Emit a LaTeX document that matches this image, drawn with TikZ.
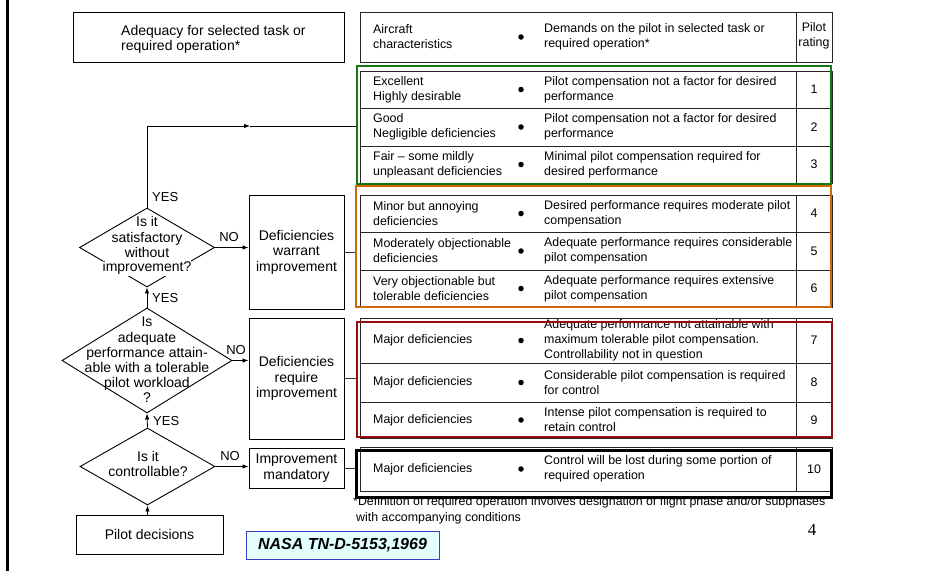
\documentclass[tikz,border=0pt]{standalone}
\usepackage{fontspec}
\setmainfont{Liberation Sans}
\newfontfamily\serifnum{Liberation Serif}
\usetikzlibrary{arrows.meta,shapes.geometric}
\definecolor{grn}{RGB}{20,118,20}
\definecolor{org}{RGB}{206,104,8}
\definecolor{dred}{RGB}{150,12,12}
\definecolor{nasafill}{RGB}{228,255,255}
\definecolor{nasaline}{RGB}{60,60,205}
\newcommand{\tblf}{\fontsize{12.4}{15}\selectfont}
\newcommand{\flowf}{\fontsize{14}{15.5}\selectfont}
\newcommand{\ratingrow}[5]{%
  \draw[tline] (360,#1) rectangle (832,#2);
  \draw[tline] (796,#1) -- (796,#2);
  \node[lbl] (c1r#5) at (373,{(#1+#2)/2}) {#3};
  \node[bul] (br#5) at (521,{(#1+#2)/2}) {};
  \node[lbl] (c2r#5) at (544,{(#1+#2)/2}) {#4};
  \node[num] (nr#5) at (814,{(#1+#2)/2}) {#5};
}
\begin{document}
\begin{tikzpicture}[x=1pt,y=-1pt,
  lbl/.style={font=\tblf, align=left, anchor=west, inner sep=0pt},
  num/.style={font=\tblf, align=center, inner sep=0pt},
  ftxt/.style={font=\flowf, align=center, inner sep=0pt},
  yn/.style={font=\fontsize{13}{13}\selectfont, inner sep=0pt},
  fbox/.style={draw, line width=0.9pt, inner sep=0pt, align=center, font=\flowf},
  dia/.style={draw, diamond, line width=0.9pt, inner sep=0pt},
  conn/.style={line width=0.8pt},
  arr/.style={line width=0.8pt, -{Latex[length=6pt,width=4.5pt]}},
  tline/.style={line width=0.8pt, black!85},
  bul/.style={circle, fill=black, inner sep=0pt, minimum size=5.5pt},
  band/.style={line width=2.3pt, inner sep=0pt},
]
\fill[white] (0,0) rectangle (951,571);
\useasboundingbox (0,0) rectangle (951,571);
% left border
\draw[line width=3pt] (7,0) -- (7,571);

% top-left heading box
\node[draw, line width=0.9pt, minimum width=271pt, minimum height=50pt, inner sep=0pt] (adq) at (208.5,37) {};
\node[font=\flowf, align=left, anchor=west, inner sep=0pt] (adqt) at (121,39.5) {Adequacy for selected task or\\required operation*};

% header of table
\draw[tline] (360,12) rectangle (832,62);
\draw[tline] (796,12) -- (796,62);
\node[lbl] (h1) at (373,37) {Aircraft\\characteristics};
\node[bul] (hb) at (521,37) {};
\node[lbl] (h2) at (544,37) {Demands on the pilot in selected task or\\required operation*};
\node[num] (h3) at (814,36) {Pilot\\rating};

% rows
\ratingrow{71}{108}{Excellent\\Highly desirable}{Pilot compensation not a factor for desired\\performance}{1}
\ratingrow{108}{146}{Good\\Negligible deficiencies}{Pilot compensation not a factor for desired\\performance}{2}
\ratingrow{146}{183}{Fair -- some mildly\\unpleasant deficiencies}{Minimal pilot compensation required for\\desired performance}{3}
\ratingrow{195}{232}{Minor but annoying\\deficiencies}{Desired performance requires moderate pilot\\compensation}{4}
\ratingrow{232}{270}{Moderately objectionable\\deficiencies}{Adequate performance requires considerable\\pilot compensation}{5}
\ratingrow{270}{307}{Very objectionable but\\tolerable deficiencies}{Adequate performance requires extensive\\pilot compensation}{6}
\ratingrow{318}{363}{Major deficiencies}{\fontsize{12.4}{13.6}\selectfont Adequate performance not attainable with\\maximum tolerable pilot compensation.\\Controllability not in question}{7}
\ratingrow{363}{402}{Major deficiencies}{Considerable pilot compensation is required\\for control}{8}
\ratingrow{402}{438}{Major deficiencies}{Intense pilot compensation is required to\\retain control}{9}
\ratingrow{447}{491}{Major deficiencies}{Control will be lost during some portion of\\required operation}{10}

% coloured bands
\node[band, draw=grn, minimum width=474pt, minimum height=118pt] (gbox) at (594,125) {};
\node[band, draw=org, minimum width=475pt, minimum height=121pt] (obox) at (593.5,246.5) {};
\node[band, draw=dred, minimum width=475pt, minimum height=115pt] (rbox) at (594.5,379.5) {};
\node[band, draw=black, line width=3pt, minimum width=475pt, minimum height=47pt] (kbox) at (593.5,473.5) {};

% flowchart
\node[dia, minimum width=135pt, minimum height=79pt] (d1) at (147,247.5) {};
\node[ftxt] (d1t) at (147,237.3) {Is it\\satisfactory\\without};
\node[ftxt, fill=white, inner ysep=1pt] (d1u) at (147,268) {improvement?};
\node[dia, minimum width=170pt, minimum height=105pt] (d2) at (147,360.5) {};
\node[ftxt, font=\fontsize{14}{15.2}\selectfont] (d2t) at (147,360) {Is\\adequate\\performance attain-\\able with a tolerable\\pilot workload\\?};
\node[dia, minimum width=135pt, minimum height=77pt] (d3) at (147.5,466.5) {};
\node[ftxt] (d3t) at (148,464) {Is it\\controllable?};

\node[fbox, minimum width=95pt, minimum height=114pt] (b1) at (296.5,252) {Deficiencies\\warrant\\improvement};
\node[fbox, minimum width=95pt, minimum height=121pt] (b2) at (296.5,378.5) {Deficiencies\\require\\improvement};
\node[fbox, minimum width=95pt, minimum height=40pt] (b3) at (296.5,468) {Improvement\\mandatory};
\node[fbox, minimum width=147pt, minimum height=39pt] (pd) at (149.5,534.5) {Pilot decisions};

% connectors
\coordinate (lp) at (250,126);
\draw[arr] (d1.north) |- (lp);
\draw[conn] (lp) -- (lp -| gbox.west);
\draw[arr] (d2.north) -- (d1.south);
\draw[arr] (d3.north) -- (d2.south);
\draw[arr] (pd.north -| d3.south) -- (d3.south);
\draw[arr] (d1.east) -- (d1.east -| b1.west);
\draw[arr] (d2.east) -- (d2.east -| b2.west);
\draw[arr] (d3.east) -- (d3.east -| b3.west);
\draw[conn, black!80] (b1.east) -- (b1.east -| obox.west);
\draw[conn, black!80] (b2.east) -- (b2.east -| rbox.west);
\draw[conn, black!80] (b3.east) -- (b3.east -| kbox.west);

% YES / NO labels
\node[yn, anchor=west] (yes1) at (152,197) {YES};
\node[yn, anchor=west] (yes2) at (152,298) {YES};
\node[yn, anchor=west] (yes3) at (153,421) {YES};
\node[yn] (no1) at (229,237) {NO};
\node[yn] (no2) at (236,350) {NO};
\node[yn] (no3) at (230,456) {NO};

% footnote
\node[font=\tblf, anchor=west, inner sep=0pt] (fn1) at (353,502) {*Definition of required operation involves designation of flight phase and/or subphases};
\node[font=\tblf, anchor=west, inner sep=0pt] (fn2) at (356,518) {with accompanying conditions};
\node[font=\serifnum\fontsize{17}{17}\selectfont, inner sep=0pt] (pg) at (812,530) {4};

% source box
\node[draw=nasaline, fill=nasafill, line width=0.8pt, minimum width=193pt, minimum height=28pt, inner sep=0pt,
      font=\bfseries\itshape\fontsize{16}{16}\selectfont] (nasa) at (342.5,545) {NASA TN-D-5153,1969};
\end{tikzpicture}
\end{document}
